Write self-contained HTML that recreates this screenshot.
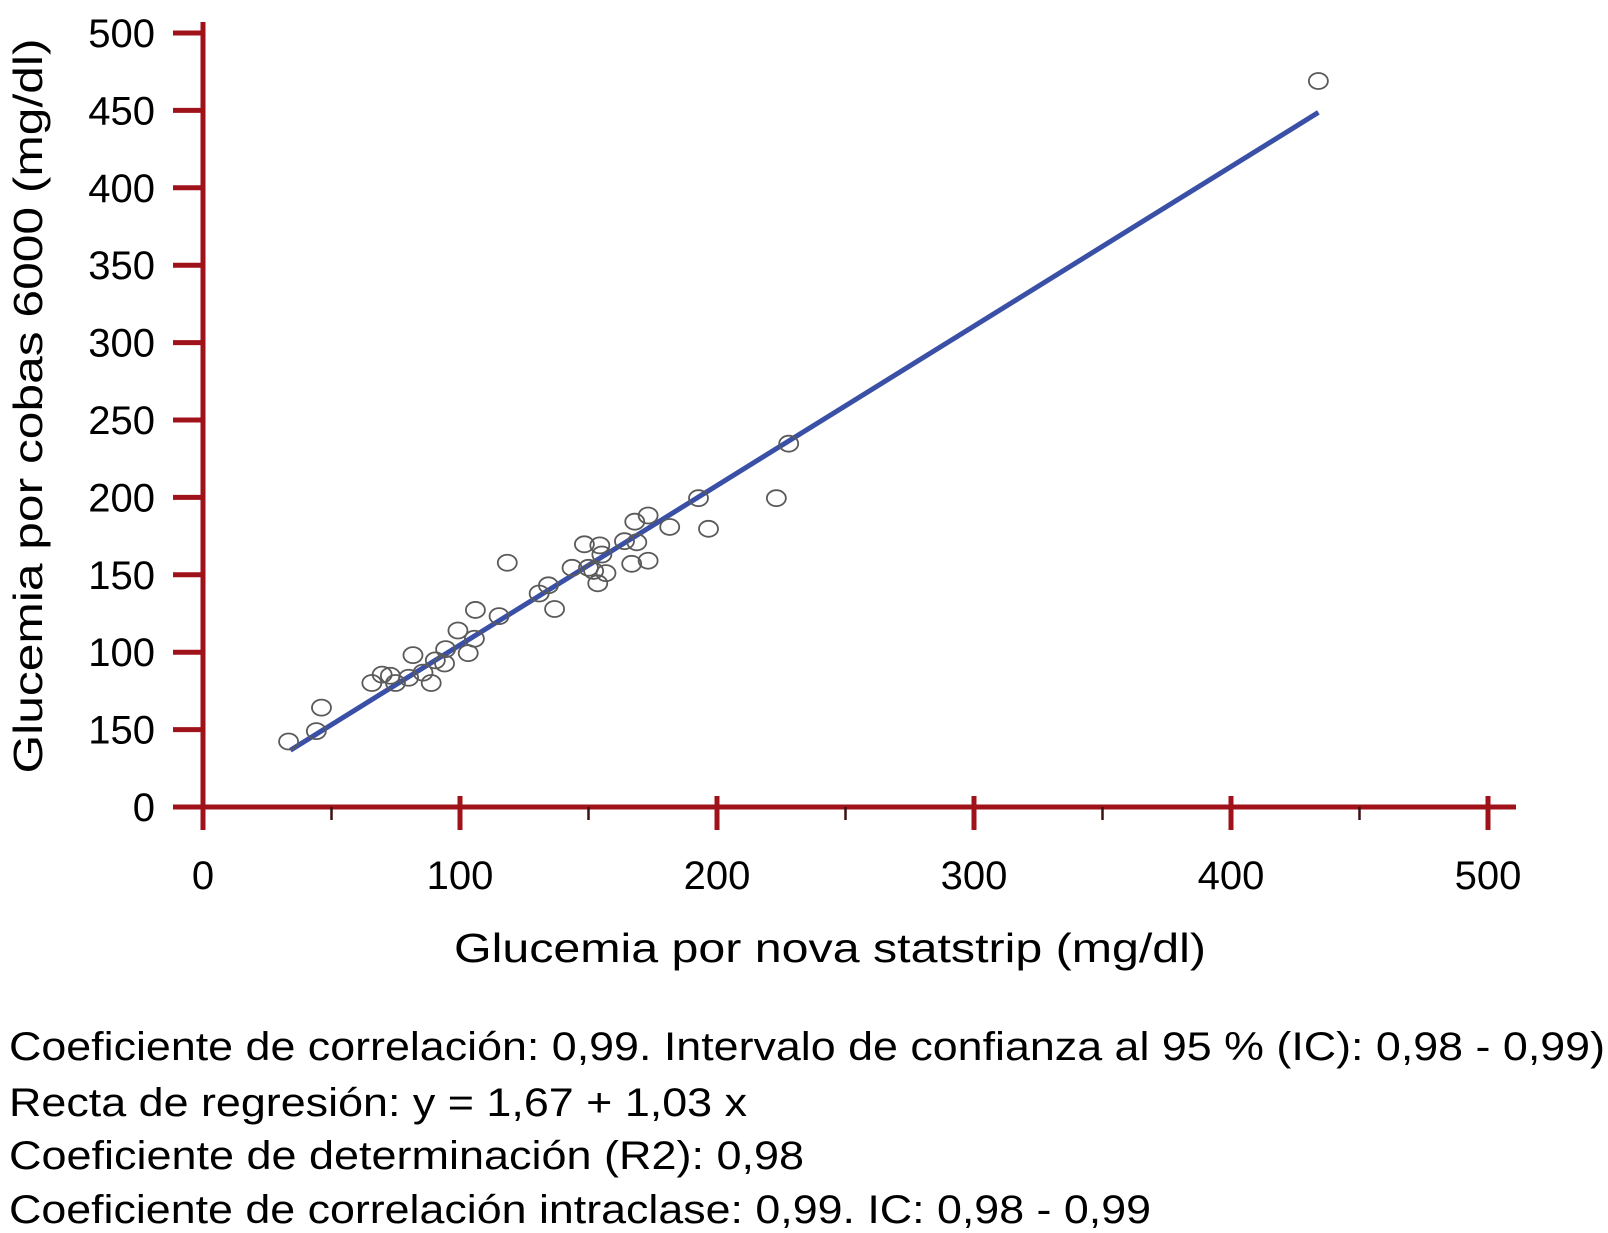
<!DOCTYPE html>
<html><head><meta charset="utf-8"><style>
html,body{margin:0;padding:0;background:#fff;}
svg{display:block;font-family:"Liberation Sans",Arial,sans-serif;}
</style></head><body>
<svg id="chart" width="1608" height="1233" viewBox="0 0 1608 1233" xmlns="http://www.w3.org/2000/svg">
<g id="axes"></g>
<g id="marks"></g>
<text transform="translate(42,406) rotate(-90)" text-anchor="middle" font-size="41" textLength="735" lengthAdjust="spacingAndGlyphs">Glucemia por cobas 6000 (mg/dl)</text>
<text x="830" y="962" text-anchor="middle" font-size="41" textLength="752" lengthAdjust="spacingAndGlyphs">Glucemia por nova statstrip (mg/dl)</text>
<g font-size="40">
<text x="9" y="1060" textLength="1596" lengthAdjust="spacingAndGlyphs">Coeficiente de correlación: 0,99. Intervalo de confianza al 95 % (IC): 0,98 - 0,99)</text>
<text x="9" y="1116" textLength="738" lengthAdjust="spacingAndGlyphs">Recta de regresión: y = 1,67 + 1,03 x</text>
<text x="9" y="1169" textLength="795" lengthAdjust="spacingAndGlyphs">Coeficiente de determinación (R2): 0,98</text>
<text x="9" y="1223" textLength="1142" lengthAdjust="spacingAndGlyphs">Coeficiente de correlación intraclase: 0,99. IC: 0,98 - 0,99</text>
</g>
</svg>
<script>
const xValues = [33.3,44.1,46.1,65.7,69.7,72.9,74.9,81.7,80.0,85.6,88.8,90.4,94.0,94.4,99.2,103.2,105.6,106.0,115.2,118.4,130.8,134.4,136.8,143.6,148.4,150.0,152.0,154.4,155.2,153.6,156.8,164.0,168.0,168.8,166.8,173.2,173.2,181.6,192.8,196.7,223.1,227.9,434];
const yValues = [42.3,49.0,64.2,80.1,85.5,84.8,80.1,98.1,83.5,86.8,80.1,94.7,92.7,102.0,114.0,99.4,108.7,127.3,123.3,157.8,137.9,143.2,127.9,154.5,169.7,154.5,152.5,169.0,163.1,144.5,151.1,171.7,184.3,171.0,157.1,159.1,188.3,180.9,199.5,179.7,199.5,234.7,469];
const xTickValues = [0,100,200,300,400,500];
const xTickLabels = ["0","100","200","300","400","500"];
const xMinorTicks = [50,150,250,350,450];
const yTickValues = [0,50,100,150,200,250,300,350,400,450,500];
const yTickLabels = ["0","150","100","150","200","250","300","350","400","450","500"];
const regression = [1.67, 1.03];
const lineRange = [34, 434];

const NS = "http://www.w3.org/2000/svg";
function sx(v){ return 203 + v * 2.57; }
function sy(v){ return 807 - v * 1.548; }
function mk(tag, attrs, parent){
  const e = document.createElementNS(NS, tag);
  for (const k in attrs) e.setAttribute(k, attrs[k]);
  parent.appendChild(e); return e;
}
const axes = document.getElementById('axes');
const marks = document.getElementById('marks');
const red = "#a0121a";

const ya = mk('line',{x1:203,y1:22,x2:203,y2:830,stroke:red,'stroke-width':5},axes);


const xa = mk('line',{x1:200,y1:807,x2:1516,y2:807,stroke:red,'stroke-width':5},axes);



yTickValues.forEach((v,i)=>{
  const t = mk('line',{x1:173,y1:sy(v),x2:203,y2:sy(v),stroke:red,'stroke-width':5},axes);
  
  
  const l = mk('text',{x:155,y:sy(v)+14,'text-anchor':'end','font-size':40},axes);
  
  
  l.textContent = yTickLabels[i];
});
xTickValues.forEach((v,i)=>{
  const t = mk('line',{x1:sx(v),y1:796,x2:sx(v),y2:830,stroke:red,'stroke-width':5},axes);
  
  
  const l = mk('text',{x:sx(v),y:889,'text-anchor':'middle','font-size':40},axes);
  
  
  l.textContent = xTickLabels[i];
});
xMinorTicks.forEach(v=>{
  const t = mk('line',{x1:sx(v),y1:807,x2:sx(v),y2:820,stroke:"#3a1010",'stroke-width':2.5},axes);
  
  
});

const rl = mk('line',{x1:sx(lineRange[0]),y1:sy(regression[0]+regression[1]*lineRange[0]),x2:sx(lineRange[1]),y2:sy(regression[0]+regression[1]*lineRange[1]),stroke:"#3a4fa6",'stroke-width':5},marks);



xValues.forEach((x,i)=>{
  const c = mk('ellipse',{cx:sx(x),cy:sy(yValues[i]),rx:9.5,ry:8,fill:'none',stroke:'#5a5a5a','stroke-width':1.8},marks);
  
  
});
</script>
</body></html>
